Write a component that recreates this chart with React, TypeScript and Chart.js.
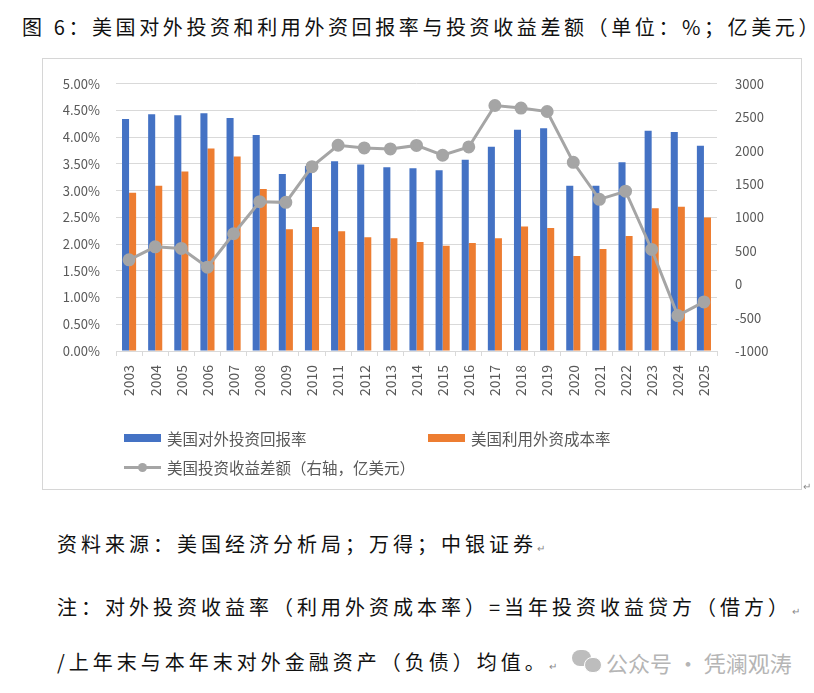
import { useEffect, useRef } from 'react';
import { Chart, registerables } from 'chart.js';

Chart.register(...registerables);

const years = [
  '2003', '2004', '2005', '2006', '2007', '2008', '2009', '2010', '2011', '2012', '2013', '2014',
  '2015', '2016', '2017', '2018', '2019', '2020', '2021', '2022', '2023', '2024', '2025',
];

// 美国对外投资回报率 (%)
const outboundReturn = [
  4.34, 4.43, 4.41, 4.45, 4.36, 4.04, 3.31, 3.46, 3.55, 3.49, 3.44, 3.42,
  3.38, 3.58, 3.82, 4.14, 4.17, 3.09, 3.09, 3.53, 4.12, 4.10, 3.84,
];

// 美国利用外资成本率 (%)
const inboundCost = [
  2.96, 3.09, 3.36, 3.79, 3.64, 3.03, 2.28, 2.32, 2.24, 2.13, 2.11, 2.04,
  1.97, 2.02, 2.11, 2.33, 2.30, 1.78, 1.91, 2.15, 2.67, 2.70, 2.50,
];

// 美国投资收益差额 (亿美元, 右轴)
const incomeBalance = [
  365, 560, 535, 255, 755, 1235, 1225, 1760, 2080, 2040, 2025, 2078,
  1930, 2055, 2675, 2637, 2585, 1825, 1270, 1392, 520, -470, -265,
];

const legendNames = ['美国对外投资回报率', '美国利用外资成本率', '美国投资收益差额（右轴，亿美元）'];

const BLUE = '#4472C4';
const ORANGE = '#ED7D31';
const GRAY = '#A5A5A5';
const TICK = '#595959';
const GRID = '#D9D9D9';
const SANS = '"Noto Sans CJK SC", "Noto Sans", sans-serif';

function ComboChart() {
  const canvasRef = useRef<HTMLCanvasElement>(null);
  const chartRef = useRef<Chart | null>(null);

  useEffect(() => {
    const canvas = canvasRef.current;
    if (!canvas) return;
    if (chartRef.current) {
      chartRef.current.destroy();
      chartRef.current = null;
    }

    const tickFont = { family: SANS, size: 13 };

    chartRef.current = new Chart(canvas, {
      type: 'bar',
      data: {
        labels: years,
        datasets: [
          {
            type: 'line',
            label: legendNames[2],
            data: incomeBalance,
            yAxisID: 'y1',
            borderColor: GRAY,
            backgroundColor: GRAY,
            borderWidth: 3,
            pointRadius: 5,
            pointBackgroundColor: GRAY,
            pointBorderColor: GRAY,
            tension: 0,
            order: 0,
          },
          {
            type: 'bar',
            label: legendNames[0],
            data: outboundReturn,
            yAxisID: 'y',
            backgroundColor: BLUE,
            categoryPercentage: 0.54,
            barPercentage: 1,
            order: 1,
          },
          {
            type: 'bar',
            label: legendNames[1],
            data: inboundCost,
            yAxisID: 'y',
            backgroundColor: ORANGE,
            categoryPercentage: 0.54,
            barPercentage: 1,
            order: 1,
          },
        ],
      },
      options: {
        animation: false,
        responsive: false,
        maintainAspectRatio: false,
        layout: { padding: { top: 21, left: 0, right: 0, bottom: 0 } },
        plugins: {
          legend: { display: false },
          tooltip: { enabled: false },
        },
        scales: {
          x: {
            offset: true,
            grid: {
              display: true,
              drawOnChartArea: false,
              drawTicks: true,
              tickLength: 5,
              color: GRID,
              offset: true,
            },
            border: { display: true, color: GRID },
            ticks: {
              color: TICK,
              font: { family: SANS, size: 14 },
              autoSkip: false,
              maxRotation: 90,
              minRotation: 90,
              padding: 9,
            },
            afterFit: (scale: any) => {
              scale.height = 139;
            },
          },
          y: {
            position: 'left',
            min: 0,
            max: 5,
            grid: { color: GRID, drawTicks: false },
            border: { display: false },
            ticks: {
              stepSize: 0.5,
              color: TICK,
              font: tickFont,
              padding: 16,
              callback: (v: any) => Number(v).toFixed(2) + '%',
            },
            afterFit: (scale: any) => {
              scale.width = 74;
            },
          },
          y1: {
            position: 'right',
            min: -1000,
            max: 3000,
            grid: { drawOnChartArea: false, drawTicks: false },
            border: { display: false },
            ticks: {
              stepSize: 500,
              color: TICK,
              font: tickFont,
              padding: 18,
              callback: (v: any) => String(v),
            },
            afterFit: (scale: any) => {
              scale.width = 85;
            },
          },
        },
      },
    } as any);

    return () => {
      if (chartRef.current) {
        chartRef.current.destroy();
        chartRef.current = null;
      }
    };
  }, []);

  return <canvas ref={canvasRef} width={760} height={432} style={{ width: 760, height: 432, display: 'block' }} />;
}

const legendText: React.CSSProperties = {
  position: 'absolute',
  fontFamily: SANS,
  fontSize: 15.5,
  color: TICK,
  lineHeight: '18px',
  whiteSpace: 'nowrap',
};

const noteStyle: React.CSSProperties = {
  position: 'absolute',
  left: 57,
  fontFamily: SANS,
  fontSize: 20,
  letterSpacing: 4,
  color: '#111',
  lineHeight: '24px',
  whiteSpace: 'nowrap',
};

const mark: React.CSSProperties = { fontSize: 10, color: '#888', letterSpacing: 0 };

export default function App() {
  return (
    <div style={{ position: 'absolute', left: 0, top: 0, width: 814, height: 693, background: '#fff', overflow: 'hidden' }}>
      <div
        style={{
          position: 'absolute',
          left: 22,
          top: 14,
          fontFamily: SANS,
          fontSize: 20,
          letterSpacing: 3.6,
          color: '#111',
          lineHeight: '26px',
          whiteSpace: 'nowrap',
        }}
      >
        图 6：美国对外投资和利用外资回报率与投资收益差额（单位：%；亿美元）
      </div>

      <div style={{ position: 'absolute', left: 42, top: 58, width: 760, height: 432 }}>
        <ComboChart />
      </div>
      <div
        style={{
          position: 'absolute',
          left: 42,
          top: 58,
          width: 760,
          height: 432,
          border: '1.5px solid #D6D6D6',
          boxSizing: 'border-box',
          pointerEvents: 'none',
        }}
      />

      <div style={{ position: 'absolute', left: 124, top: 434, width: 37, height: 8, background: BLUE }} />
      <div style={{ ...legendText, left: 167, top: 429 }}>{legendNames[0]}</div>
      <div style={{ position: 'absolute', left: 428, top: 434, width: 37, height: 8, background: ORANGE }} />
      <div style={{ ...legendText, left: 471, top: 429 }}>{legendNames[1]}</div>
      <div style={{ position: 'absolute', left: 124, top: 466, width: 37, height: 3, background: GRAY }} />
      <div style={{ position: 'absolute', left: 138, top: 463, width: 9, height: 9, borderRadius: 5, background: GRAY }} />
      <div style={{ ...legendText, left: 167, top: 458 }}>{legendNames[2]}</div>
      <div style={{ position: 'absolute', left: 803, top: 481, ...mark }}>↵</div>

      <div style={{ ...noteStyle, top: 532 }}>
        资料来源：美国经济分析局；万得；中银证券<span style={mark}>↵</span>
      </div>
      <div style={{ ...noteStyle, top: 595 }}>
        注：对外投资收益率（利用外资成本率）=当年投资收益贷方（借方）<span style={mark}>↵</span>
      </div>
      <div style={{ ...noteStyle, top: 650 }}>
        /上年末与本年末对外金融资产（负债）均值。<span style={mark}>↵</span>
      </div>

      <div style={{ position: 'absolute', left: 572, top: 650, width: 19, height: 16, borderRadius: 10, background: '#BDBDBD' }} />
      <div style={{ position: 'absolute', left: 584, top: 657, width: 16, height: 14, borderRadius: 8, background: '#BDBDBD', border: '1.5px solid #fff' }} />
      <div
        style={{
          position: 'absolute',
          left: 606,
          top: 648,
          fontFamily: SANS,
          fontSize: 22,
          color: '#B5B5B5',
          lineHeight: '28px',
          whiteSpace: 'nowrap',
        }}
      >
        公众号 · 凭澜观涛
      </div>
    </div>
  );
}
